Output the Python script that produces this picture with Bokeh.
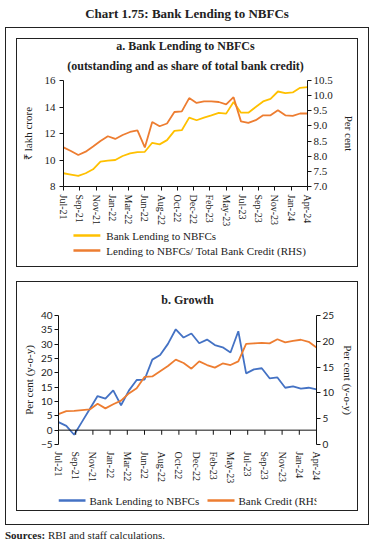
from bokeh.plotting import figure
from bokeh.models import (Range1d, LinearAxis, FixedTicker, Title, Span, Div,
                          NumeralTickFormatter)
from bokeh.layouts import column
from bokeh.embed import file_html
from bokeh.resources import INLINE
from bokeh.core.properties import value

# ---------------- data ----------------
months = ["Jul-21", "Aug-21", "Sep-21", "Oct-21", "Nov-21", "Dec-21",
          "Jan-22", "Feb-22", "Mar-22", "Apr-22", "May-22", "Jun-22",
          "Jul-22", "Aug-22", "Sep-22", "Oct-22", "Nov-22", "Dec-22",
          "Jan-23", "Feb-23", "Mar-23", "Apr-23", "May-23", "Jun-23",
          "Jul-23", "Aug-23", "Sep-23", "Oct-23", "Nov-23", "Dec-23",
          "Jan-24", "Feb-24", "Mar-24", "Apr-24"]

tick_labels = ["Jul-21", "Sep-21", "Nov-21", "Jan-22", "Mar-22", "Jun-22", "Aug-22",
               "Oct-22", "Dec-22", "Feb-23", "May-23", "Jul-23", "Sep-23", "Nov-23",
               "Jan-24", "Apr-24"]

# Panel a: outstanding bank lending to NBFCs (₹ lakh crore)
nbfc_lending = [9.0, 8.9, 8.8, 9.0, 9.3, 9.87, 9.95, 10.0, 10.3, 10.5, 10.6, 10.62,
                11.3, 11.18, 11.5, 12.2, 12.25, 13.2, 13.0, 13.2, 13.37, 13.55, 13.5, 14.37,
                13.57, 13.57, 14.0, 14.42, 14.62, 15.17, 15.05, 15.1, 15.45, 15.5]
# Panel a: lending to NBFCs / total bank credit (per cent, RHS)
nbfc_share = [8.29, 8.17, 8.04, 8.15, 8.32, 8.5, 8.66, 8.57, 8.7, 8.8, 8.85, 8.29,
              9.13, 8.99, 9.08, 9.46, 9.48, 9.92, 9.76, 9.81, 9.81, 9.79, 9.71, 9.95,
              9.15, 9.1, 9.19, 9.35, 9.35, 9.52, 9.35, 9.33, 9.41, 9.41]

# Panel b: growth (per cent, y-o-y)
nbfc_growth = [2.8, 1.5, -1.6, 2.9, 7.4, 11.9, 11.0, 13.9, 8.7, 13.8, 17.5, 17.6,
               24.6, 26.2, 30.1, 35.2, 32.3, 33.7, 30.3, 31.6, 29.7, 28.9, 27.1, 34.5,
               19.8, 21.2, 21.6, 18.1, 18.4, 14.8, 15.3, 14.5, 14.8, 14.2]
credit_growth = [5.9, 6.45, 6.5, 6.65, 6.8, 7.9, 7.0, 7.8, 8.5, 9.9, 10.9, 13.1,
                 13.2, 14.2, 15.2, 16.45, 15.8, 14.7, 16.1, 15.4, 14.9, 15.7, 15.4, 16.1,
                 19.5, 19.6, 19.7, 19.6, 20.4, 19.8, 20.1, 20.3, 19.9, 18.8]

left_ticks_a = [8, 10, 12, 14, 16]
right_ticks_a = [7.0, 7.5, 8.0, 8.5, 9.0, 9.5, 10.0, 10.5]
left_ticks_b = [-5, 0, 5, 10, 15, 20, 25, 30, 35, 40]
right_ticks_b = [0, 5, 10, 15, 20, 25]

legend_a_labels = ["Bank Lending to NBFCs", "Lending to NBFCs/ Total Bank Credit (RHS)"]
legend_b_labels = ["Bank Lending to NBFCs", "Bank Credit (RHS)"]

# ---------------- styling ----------------
SERIF = "Liberation Serif"
SANS = "Lato"
TXT = "#222222"
YELLOW = "#FFC000"
ORANGE = "#ED7D31"
BLUE = "#4472C4"
LW = 1.8

FIG_W = 340
A_LEFT, A_RIGHT = 46, 49
B_LEFT, B_RIGHT = 41, 41

x = list(range(len(months)))
n_last = len(months) - 1
n_lab = len(tick_labels)
tick_pos = [round(i * n_last / (n_lab - 1), 4) for i in range(n_lab)]
overrides = {t: lab for t, lab in zip(tick_pos, tick_labels)}


def style_axis(ax, font, size="10px"):
    ax.axis_line_color = "#111111"
    ax.major_tick_line_color = "#111111"
    ax.minor_tick_line_color = None
    ax.major_tick_in = 0
    ax.major_tick_out = 4
    ax.major_label_text_font = font
    ax.major_label_text_font_size = size
    ax.major_label_text_color = TXT
    ax.axis_label_text_font = SERIF
    ax.axis_label_text_font_size = "11px"
    ax.axis_label_text_font_style = "normal"
    ax.axis_label_text_color = TXT


def base_fig(w, h, ml, mr, mt, mb, y0, y1):
    p = figure(width=w, height=h, output_backend="svg", toolbar_location=None,
               x_range=Range1d(0, n_last), y_range=Range1d(y0, y1),
               min_border_left=ml, min_border_right=mr, min_border_top=mt,
               min_border_bottom=mb)
    p.outline_line_color = None
    p.xgrid.visible = False
    p.ygrid.visible = False
    return p


def legend_fig(w, h, frame_w, labels, colors, sample_x, text_x, rows):
    """Legend strip under a panel; its frame lines up with the panel's frame,
    so the x range is the frame width in pixels."""
    lf = figure(width=w, height=h, output_backend="svg", toolbar_location=None,
                x_range=Range1d(0, frame_w), y_range=Range1d(h, 0),
                x_axis_location=None, y_axis_location=None,
                min_border=0, min_border_left=0, min_border_right=0,
                min_border_top=0, min_border_bottom=0)
    lf.outline_line_color = None
    lf.xgrid.visible = False
    lf.ygrid.visible = False
    lf.segment(x0=sample_x, x1=[s + 27 for s in sample_x], y0=rows, y1=rows,
               line_color=colors, line_width=2.6)
    lf.text(x=text_x, y=rows, text=labels, text_font=value(SERIF),
            text_font_size=value("11px"), text_color=TXT, text_baseline="middle",
            text_align="left")
    return lf


# ---------------- panel a ----------------
pa = base_fig(FIG_W, 190, A_LEFT, A_RIGHT, 41, 42, 8, 16)
pa.extra_y_ranges = {"share": Range1d(7.0, 10.5)}

pa.line(x, nbfc_lending, line_color=YELLOW, line_width=LW)
pa.line(x, nbfc_share, line_color=ORANGE, line_width=LW, y_range_name="share")

pa.add_layout(Title(text="(outstanding and as share of total bank credit)", align="center",
                    text_font=SERIF, text_font_size="12px", text_font_style="bold",
                    text_color=TXT, standoff=15), "above")
pa.add_layout(Title(text="a. Bank Lending to NBFCs", align="center",
                    text_font=SERIF, text_font_size="12px", text_font_style="bold",
                    text_color=TXT, standoff=-7), "above")

xa = pa.xaxis[0]
style_axis(xa, SERIF)
xa.ticker = FixedTicker(ticks=tick_pos)
xa.major_label_overrides = overrides
xa.major_label_orientation = "vertical"
xa.major_label_standoff = 4

ya = pa.yaxis[0]
style_axis(ya, SERIF, "11px")
ya.ticker = FixedTicker(ticks=left_ticks_a)
ya.axis_label = "₹ lakh crore"
ya.major_label_standoff = 4
ya.axis_label_standoff = 8

ya_r = LinearAxis(y_range_name="share", ticker=FixedTicker(ticks=right_ticks_a),
                  formatter=NumeralTickFormatter(format="0.0"), axis_label="Per cent")
style_axis(ya_r, SERIF, "11px")
ya_r.major_label_standoff = 2
ya_r.axis_label_standoff = 7
pa.add_layout(ya_r, "right")

la = legend_fig(FIG_W, 37, FIG_W - A_LEFT - A_RIGHT, legend_a_labels, [YELLOW, ORANGE],
                sample_x=[10, 10], text_x=[43, 43], rows=[6, 21])

# ---------------- panel b ----------------
pb = base_fig(FIG_W, 204, B_LEFT, B_RIGHT, 31, 40, -5, 40)
pb.extra_y_ranges = {"rhs": Range1d(0, 25)}

pb.line(x, nbfc_growth, line_color=BLUE, line_width=LW)
pb.line(x, credit_growth, line_color=ORANGE, line_width=LW, y_range_name="rhs")

pb.add_layout(Title(text="b. Growth", align="center", text_font=SERIF, text_font_size="12px",
                    text_font_style="bold", text_color=TXT, standoff=17), "above")

pb.add_layout(Span(location=0, dimension="width", line_color="#111111", line_width=1))
pb.segment(x0=tick_pos, x1=tick_pos, y0=[0] * n_lab, y1=[-1.6] * n_lab,
           line_color="#111111", line_width=1)

xb = pb.xaxis[0]
style_axis(xb, SERIF)
xb.ticker = FixedTicker(ticks=tick_pos)
xb.major_label_overrides = overrides
xb.major_label_orientation = "vertical"
xb.axis_line_color = None
xb.major_tick_line_color = None
xb.major_tick_out = 0
xb.major_label_standoff = 7

yb = pb.yaxis[0]
style_axis(yb, SANS, "10px")
yb.ticker = FixedTicker(ticks=left_ticks_b)
yb.axis_label = "Per cent (y-o-y)"
yb.major_label_standoff = 2
yb.axis_label_standoff = 3

yb_r = LinearAxis(y_range_name="rhs", ticker=FixedTicker(ticks=right_ticks_b),
                  axis_label="Per cent (y-o-y)")
style_axis(yb_r, SANS, "10px")
yb_r.major_label_standoff = 2
yb_r.axis_label_standoff = 5
pb.add_layout(yb_r, "right")

lb = legend_fig(FIG_W, 24, FIG_W - B_LEFT - B_RIGHT, legend_b_labels, [BLUE, ORANGE],
                sample_x=[0, 149], text_x=[31, 180], rows=[14, 14])

# ---------------- page ----------------
box_a = column(pa, la, spacing=0, margin=(10, 10, 0, 10), styles={"border": "1px solid #222"})
box_b = column(pb, lb, spacing=0, margin=(14, 10, 13, 10), styles={"border": "1px solid #222"})

outer = column(box_a, box_b, spacing=0, margin=(0, 0, 0, 5),
               styles={"border": "1px solid #222"})

title_div = Div(text="Chart 1.75: Bank Lending to NBFCs", width=364, height=27,
                margin=(0, 0, 0, 5),
                styles={"text-align": "center", "font-family": SERIF, "font-weight": "bold",
                        "font-size": "13px", "line-height": "27px", "color": TXT})
src_div = Div(text="<b>Sources:</b> RBI and staff calculations.", width=364, height=22,
              margin=(0, 0, 0, 5),
              styles={"font-family": SERIF, "font-size": "11px", "line-height": "20px",
                      "color": TXT})

page = column(title_div, outer, src_div, spacing=0, margin=0)

open("out.html", "w").write(file_html(page, INLINE))
